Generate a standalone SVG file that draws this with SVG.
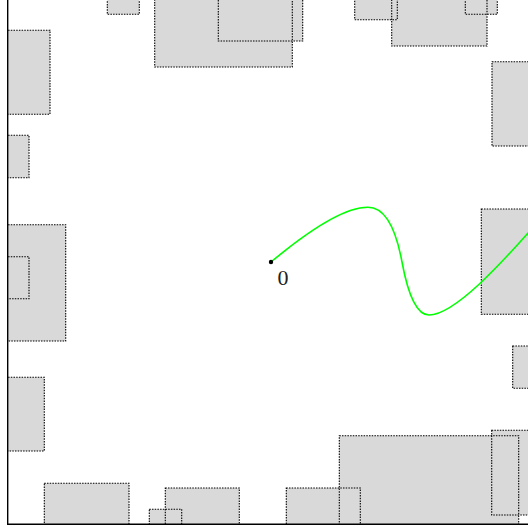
<svg xmlns="http://www.w3.org/2000/svg" width="528" height="532" viewBox="0 0 528 532">
<defs>
<clipPath id="plot"><rect x="7.7" y="-20" width="540" height="544.3"/></clipPath>
</defs>
<style>
.f{fill:#d9d9d9;stroke:none}
.o{fill:none;stroke:#000;stroke-width:1.1;stroke-dasharray:1.5,1.2}
.axis{fill:none;stroke:#000;stroke-width:1.4}
.path{fill:none;stroke:#00ff00;stroke-width:1.6}
.lbl{font-family:"Liberation Serif","DejaVu Serif",serif;font-size:22px;fill:#222}
</style>
<rect width="528" height="532" fill="#fff"/>
<g id="obstacles" clip-path="url(#plot)">
<g id="fills">
<rect class="f" x="107.3" y="-10" width="32" height="24.3"/>
<rect class="f" x="154.7" y="-10" width="137.6" height="77"/>
<rect class="f" x="218.3" y="-10" width="84.4" height="51"/>
<rect class="f" x="0" y="30.3" width="50" height="84"/>
<rect class="f" x="0" y="135.3" width="29" height="42.4"/>
<rect class="f" x="354.7" y="-10" width="42.6" height="29.7"/>
<rect class="f" x="391.7" y="-10" width="95.3" height="56"/>
<rect class="f" x="465.3" y="-10" width="32" height="24.3"/>
<rect class="f" x="492" y="61.7" width="48" height="84.3"/>
<rect class="f" x="0" y="224.7" width="65.7" height="116.3"/>
<rect class="f" x="0" y="256.7" width="29" height="42"/>
<rect class="f" x="0" y="377.3" width="44.3" height="73.7"/>
<rect class="f" x="44.3" y="483.3" width="84.7" height="56.7"/>
<rect class="f" x="149.3" y="509.3" width="32.4" height="30.7"/>
<rect class="f" x="165.3" y="488" width="74" height="52"/>
<rect class="f" x="286.3" y="488" width="74" height="52"/>
<rect class="f" x="339.3" y="435.7" width="179.4" height="104.3"/>
<rect class="f" x="491.7" y="430.3" width="48.3" height="84.7"/>
<rect class="f" x="512.7" y="346" width="27.3" height="42.3"/>
<rect class="f" x="481.3" y="209" width="58.7" height="105.3"/>
</g>
<g id="outlines">
<rect class="o" x="107.3" y="-10" width="32" height="24.3"/>
<rect class="o" x="154.7" y="-10" width="137.6" height="77"/>
<rect class="o" x="218.3" y="-10" width="84.4" height="51"/>
<rect class="o" x="0" y="30.3" width="50" height="84"/>
<rect class="o" x="0" y="135.3" width="29" height="42.4"/>
<rect class="o" x="354.7" y="-10" width="42.6" height="29.7"/>
<rect class="o" x="391.7" y="-10" width="95.3" height="56"/>
<rect class="o" x="465.3" y="-10" width="32" height="24.3"/>
<rect class="o" x="492" y="61.7" width="48" height="84.3"/>
<rect class="o" x="0" y="224.7" width="65.7" height="116.3"/>
<rect class="o" x="0" y="256.7" width="29" height="42"/>
<rect class="o" x="0" y="377.3" width="44.3" height="73.7"/>
<rect class="o" x="44.3" y="483.3" width="84.7" height="56.7"/>
<rect class="o" x="149.3" y="509.3" width="32.4" height="30.7"/>
<rect class="o" x="165.3" y="488" width="74" height="52"/>
<rect class="o" x="286.3" y="488" width="74" height="52"/>
<rect class="o" x="339.3" y="435.7" width="179.4" height="104.3"/>
<rect class="o" x="491.7" y="430.3" width="48.3" height="84.7"/>
<rect class="o" x="512.7" y="346" width="27.3" height="42.3"/>
<rect class="o" x="481.3" y="209" width="58.7" height="105.3"/>
</g>
</g>
<g id="connectors" clip-path="url(#plot)">
<path class="path" d="M271,262 C295,242 340,207 368,207.3 C388,207.3 397,235 402,262 C407,289 415,315 429,315 C455,315 505,259 528.3,232.7 C533,227.5 538,221 545,213"/>
</g>
<g id="start">
<circle cx="271" cy="262" r="2.2" fill="#000"/>
<text class="lbl" x="277.5" y="284.5">0</text>
</g>
<g id="axes">
<polyline class="axis" points="7.7,0 7.7,524.3 528,524.3"/>
</g>
</svg>
